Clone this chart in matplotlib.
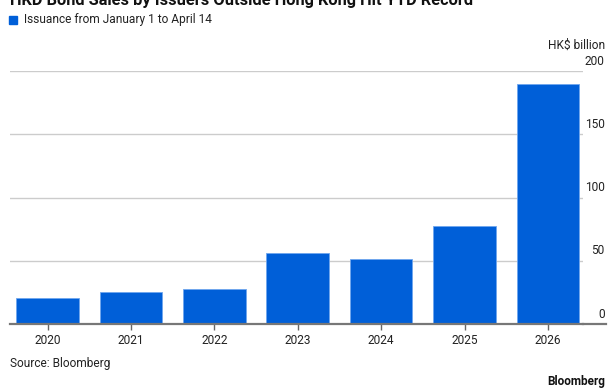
import matplotlib
matplotlib.use("Agg")
import matplotlib.pyplot as plt

# Valores (HK$ billion)
years = ["2020", "2021", "2022", "2023", "2024", "2025", "2026"]
issuance = [20.3, 25.3, 27.4, 56.3, 51.6, 77.4, 189.6]
y_ticks = [0, 50, 100, 150, 200]

title = "HKD Bond Sales by Issuers Outside Hong Kong Hit YTD Record"
legend_label = "Issuance from January 1 to April 14"
unit_label = "HK$ billion"
source = "Source: Bloomberg"

blue = "#005FD8"
plt.rcParams["font.family"] = ["Roboto", "DejaVu Sans"]
fs = 8.6

W, H = 609, 390
fig = plt.figure(figsize=(W / 100, H / 100), dpi=100)
ax = fig.add_axes([10 / W, 1 - 324 / H, (583 - 10) / W, (324 - 71) / H])

x = list(range(len(years)))
ax.bar(x, issuance, width=0.75, color=blue, edgecolor="#6fa6ee", linewidth=0.6, zorder=3)

ax.set_xlim(-0.45, 6.42)
ax.set_ylim(0, 200)
ax.set_yticks(y_ticks)
ax.set_yticklabels([])
ax.tick_params(axis="y", length=0)
ax.grid(axis="y", color="#cccccc", linewidth=1, zorder=0)
for v in y_ticks:
    ax.annotate(str(v), xy=(1, v), xycoords=("axes fraction", "data"),
                xytext=(15.5, 2.5), textcoords="offset points", ha="right", va="bottom",
                fontsize=fs, color="#222222")

ax.set_xticks(x)
ax.set_xticklabels(years, fontsize=fs, color="#222222")
ax.tick_params(axis="x", length=4, width=1, color="#666666", pad=3)

for s in ["top", "right", "left"]:
    ax.spines[s].set_visible(False)
ax.spines["bottom"].set_color("#777777")
ax.spines["bottom"].set_linewidth(1.6)
ax.spines["bottom"].set_zorder(4)
# linea base se alarga hasta el borde derecho
ax.plot([1, 1.04], [0, 0], transform=ax.get_yaxis_transform(), color="#777777",
        linewidth=1.6, clip_on=False, zorder=4)

# titulo cortado arriba
fig.text(10 / W, 1 - 5 / H, title, fontsize=11.8, fontweight="bold", color="#111111",
         ha="left", va="baseline")

# leyenda
fig.patches.append(plt.Rectangle((9 / W, 1 - 24 / H), 8 / W, 8 / H, color=blue,
                                 transform=fig.transFigure, figure=fig))
fig.text(24 / W, 1 - 20 / H, legend_label, fontsize=fs, color="#222222", ha="left", va="center")

fig.text(605 / W, 1 - 45 / H, unit_label, fontsize=fs, color="#222222", ha="right", va="center")
fig.text(10 / W, 1 - 363 / H, source, fontsize=fs, color="#222222", ha="left", va="center")
fig.text(605 / W, 1 - 381 / H, "Bloomberg", fontsize=8.5, fontweight="bold", color="#111111",
         ha="right", va="center")

fig.savefig("out.png", dpi=100, facecolor="white")
